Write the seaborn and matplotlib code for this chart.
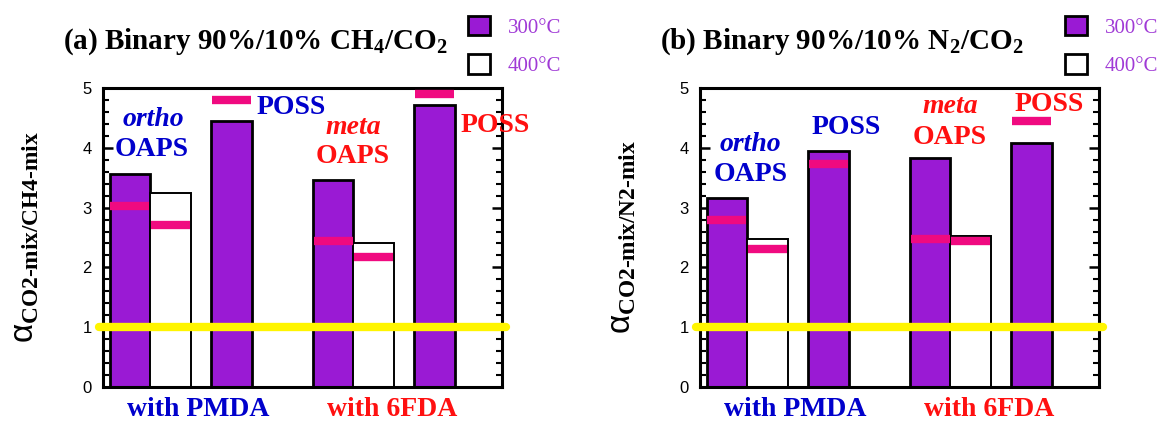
import numpy as np
import pandas as pd
import matplotlib
matplotlib.use("Agg")
import matplotlib.pyplot as plt
from matplotlib.patches import Patch
from matplotlib.ticker import MultipleLocator
import seaborn as sns

# 数据
positions = [0, 1, 2.5, 5, 6, 7.5]
temps = ['300°C', '400°C', '300°C', '300°C', '400°C', '300°C']
ch4_bar = [3.56, 3.24, 4.46, 3.46, 2.40, 4.72]
ch4_pink = [3.02, 2.71, 4.80, 2.44, 2.17, 4.90]
n2_bar = [3.16, 2.47, 3.95, 3.83, 2.53, 4.09]
n2_pink = [2.79, 2.31, 3.73, 2.47, 2.44, 4.45]

purple = '#9a1ad4'
pink = '#f00a80'
yellow = '#fff500'
blue = '#0000cc'
red = '#ff1010'
leg_purple = '#a03ad6'

sns.set_style('white')
plt.rcParams['font.family'] = ['Liberation Serif', 'DejaVu Serif']
plt.rcParams['text.color'] = 'black'
plt.rcParams['axes.labelcolor'] = 'black'
plt.rcParams['ytick.color'] = 'black'
plt.rcParams['mathtext.fontset'] = 'custom'
plt.rcParams['mathtext.bf'] = 'Liberation Serif:bold'
plt.rcParams['mathtext.rm'] = 'Liberation Serif'
plt.rcParams['mathtext.it'] = 'Liberation Sans'

fig = plt.figure(figsize=(11.61, 4.21), dpi=100)
ax1 = fig.add_axes([0.0887, 0.0815, 0.3437, 0.7088])
ax2 = fig.add_axes([0.6029, 0.0815, 0.3437, 0.7088])


def draw_panel(ax, bars, pinks, title, tx, ylab):
    df = pd.DataFrame({'pos': positions, 'val': bars, 'temp': temps})
    sns.barplot(data=df, x='pos', y='val', hue='temp', native_scale=True,
                dodge=False, width=1.0, saturation=1,
                palette={'300°C': purple, '400°C': 'white'},
                edgecolor='black', linewidth=2.0, legend=False, ax=ax, zorder=2)
    for p in ax.patches:
        if p.get_facecolor()[0] > 0.9:
            p.set_linewidth(1.4)
    pos = np.array(positions)
    ax.hlines(pinks, pos - 0.48, pos + 0.48, color=pink, linewidth=6, zorder=4)
    ax.axhline(1, xmin=-0.01, xmax=1.01, color=yellow, linewidth=6,
               zorder=5, clip_on=False)

    ax.set_xlim(-0.665, 9.16)
    ax.set_ylim(0, 5)
    ax.set_xticks([])
    ax.set_xlabel('')
    ax.yaxis.set_major_locator(MultipleLocator(1))
    ax.yaxis.set_minor_locator(MultipleLocator(0.2))
    ax.tick_params(axis='y', which='major', direction='in', length=7, width=1.8,
                   left=True, right=True, labelsize=12, pad=8, colors='black')
    ax.tick_params(axis='y', which='minor', direction='in', length=4, width=1.5,
                   left=True, right=True, colors='black')
    for lab in ax.get_yticklabels():
        lab.set_family('Liberation Sans')
    for s in ax.spines.values():
        s.set_linewidth(2.2)
        s.set_color('black')
    ax.set_ylabel(ylab, fontsize=24, labelpad=30)

    ax.text(tx, 1.155, title, transform=ax.transAxes, ha='center', va='center',
            fontsize=21, fontweight='bold')

    ax.text(1.67, -0.39, 'with PMDA', color=blue, fontsize=20, fontweight='bold',
            ha='center', va='center', clip_on=False)
    ax.text(6.45, -0.39, 'with 6FDA', color=red, fontsize=20, fontweight='bold',
            ha='center', va='center', clip_on=False)

    handles = [Patch(facecolor=purple, edgecolor='black', linewidth=2),
               Patch(facecolor='white', edgecolor='black', linewidth=2)]
    leg = ax.legend(handles, ['300°C', '400°C'], loc='upper left',
                    bbox_to_anchor=(0.915, 1.243), frameon=False, fontsize=15,
                    handlelength=1.05, handleheight=1.05, handletextpad=0.85,
                    labelspacing=0.8, borderpad=0, borderaxespad=0)
    for t in leg.get_texts():
        t.set_color(leg_purple)


draw_panel(ax1, ch4_bar, ch4_pink, r'(a) Binary 90%/10% CH$_{\mathbf{4}}$/CO$_{\mathbf{2}}$',
           0.381, '$\\alpha_{\\mathbf{CO2‐mix/CH4‐mix}}$')
draw_panel(ax2, n2_bar, n2_pink, r'(b) Binary 90%/10% N$_{\mathbf{2}}$/CO$_{\mathbf{2}}$',
           0.355, '$\\alpha_{\\mathbf{CO2‐mix/N2‐mix}}$')

lab_kw = dict(fontsize=20, fontweight='bold', ha='center', va='center', zorder=6)

# 左图标注
ax1.text(0.57, 4.47, 'ortho', color=blue, style='italic', **lab_kw)
ax1.text(0.54, 3.97, 'OAPS', color=blue, **lab_kw)
ax1.text(3.97, 4.67, 'POSS', color=blue, **lab_kw)
ax1.text(5.49, 4.35, 'meta', color=red, style='italic', **lab_kw)
ax1.text(5.47, 3.85, 'OAPS', color=red, **lab_kw)
ax1.text(8.99, 4.38, 'POSS', color=red, clip_on=False, **lab_kw)

# 右图标注
ax2.text(0.57, 4.05, 'ortho', color=blue, style='italic', **lab_kw)
ax2.text(0.57, 3.55, 'OAPS', color=blue, **lab_kw)
ax2.text(2.93, 4.35, 'POSS', color=blue, **lab_kw)
ax2.text(5.49, 4.69, 'meta', color=red, style='italic', **lab_kw)
ax2.text(5.49, 4.18, 'OAPS', color=red, **lab_kw)
ax2.text(7.93, 4.72, 'POSS', color=red, **lab_kw)

fig.savefig('out.png', dpi=100)
